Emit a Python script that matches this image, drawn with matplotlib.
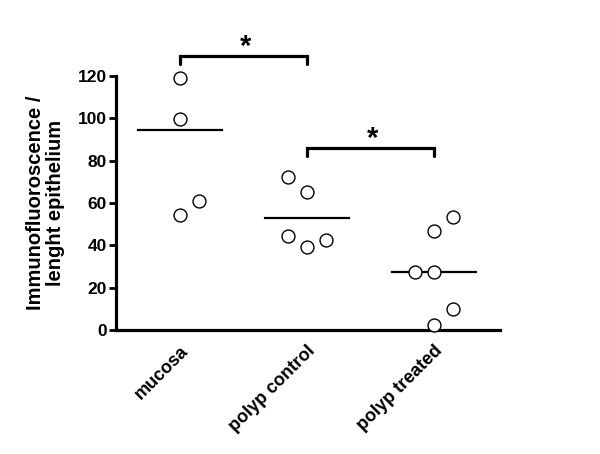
import matplotlib
matplotlib.use("Agg")
import matplotlib.pyplot as plt

plt.rcParams['font.family'] = ['Liberation Sans', 'DejaVu Sans']

categories = ["mucosa", "polyp control", "polyp treated"]
# individual points: (x offset within group, value)
mucosa_vals = [119.0, 99.7, 54.3, 60.9]
mucosa_off = [0.0, 0.0, 0.0, 0.15]
control_vals = [72.3, 65.2, 44.4, 39.2, 42.5]
control_off = [-0.15, 0.0, -0.15, 0.0, 0.15]
treated_vals = [53.4, 46.8, 27.4, 27.4, 9.9, 2.4]
treated_off = [0.15, 0.0, -0.15, 0.0, 0.15, 0.0]
center_lines = [94.5, 52.9, 27.4]
yticks = [0, 20, 40, 60, 80, 100, 120]
brackets = [(0, 1, 129.5, 125.5), (1, 2, 86, 82)]

fig = plt.figure(figsize=(6.0, 4.54), dpi=100)
ax = fig.add_axes([0.1933, 0.2731, 0.64, 0.5595])

groups = [(mucosa_vals, mucosa_off), (control_vals, control_off), (treated_vals, treated_off)]
for i, (vals, offs) in enumerate(groups):
    xs = [i + o for o in offs]
    ax.plot(xs, vals, linestyle='none', marker='o', markersize=9.3,
            markerfacecolor='white', markeredgecolor='black', markeredgewidth=1.0,
            clip_on=False, zorder=3)
    ax.plot([i - 0.33, i + 0.33], [center_lines[i]] * 2, color='black', lw=1.6, zorder=2)

for a, b, ytop, ybot in brackets:
    ax.plot([a, a, b, b], [ybot, ytop, ytop, ybot], color='black', lw=2.3,
            clip_on=False, solid_joinstyle='miter', solid_capstyle='round')
    ax.text((a + b) / 2 + 0.02, ytop - 2.3, '*', ha='center', va='bottom', fontsize=21,
            fontweight='bold')

ax.set_xlim(-0.504, 2.52)
ax.set_ylim(0, 120)
ax.set_yticks(yticks)
ax.set_yticklabels([str(t) for t in yticks], fontsize=12.5, fontweight='bold')
ax.set_xticks(range(len(categories)))
ax.set_xticklabels(categories, rotation=45, ha='right', rotation_mode='anchor',
                   fontsize=13, fontweight='bold')
ax.tick_params(axis='x', length=0, pad=9)
ax.tick_params(axis='y', length=5, width=2, pad=1.5)
for s in ['top', 'right']:
    ax.spines[s].set_visible(False)
for s in ['left', 'bottom']:
    ax.spines[s].set_linewidth(2.3)
ax.set_ylabel("Immunofluoroscence /\nlenght epithelium", fontsize=14.5,
              fontweight='bold', labelpad=9, linespacing=1.1)

fig.savefig("out.png", dpi=100)
